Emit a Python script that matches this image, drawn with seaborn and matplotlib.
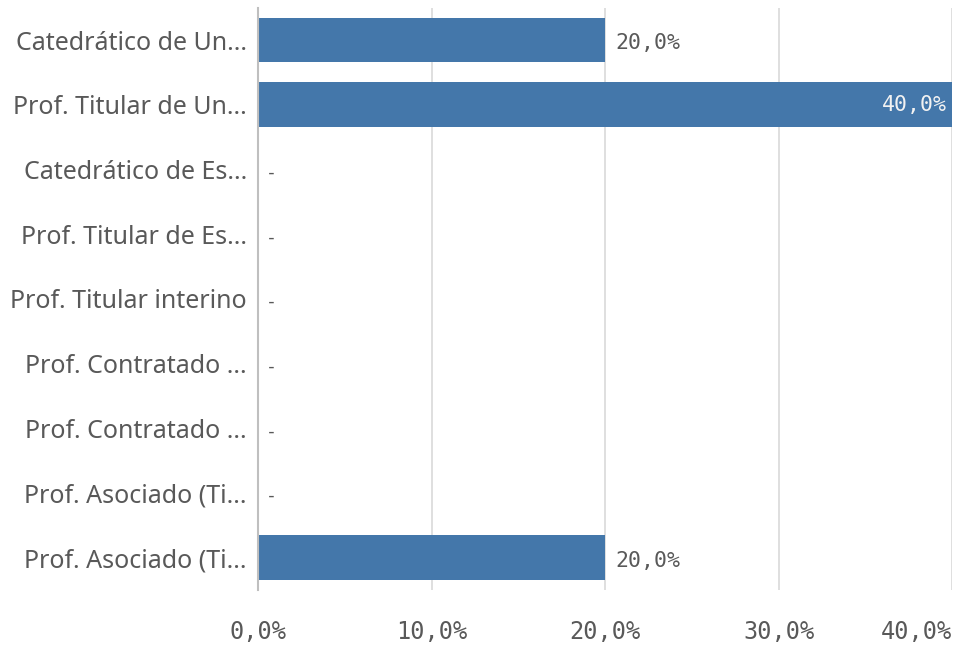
import matplotlib
matplotlib.use("Agg")
import matplotlib.pyplot as plt
import seaborn as sns
import pandas as pd

# data
categories = [
    "Catedrático de Un...",
    "Prof. Titular de Un...",
    "Catedrático de Es...",
    "Prof. Titular de Es...",
    "Prof. Titular interino",
    "Prof. Contratado ...",
    "Prof. Contratado ...",
    "Prof. Asociado (Ti...",
    "Prof. Asociado (Ti...",
]
values = [20.0, 40.0, 0, 0, 0, 0, 0, 0, 20.0]
x_ticks = [0, 10, 20, 30, 40]

BAR_COLOR = "#4477aa"
TEXT_GRAY = "#595959"
GRID_GRAY = "#d9d9d9"
MONO = "DejaVu Sans Mono"

sns.set_theme(style="white")
plt.rcParams["font.family"] = ["Noto Sans", "DejaVu Sans"]

# unique ids so duplicate labels keep their own rows
df = pd.DataFrame({"row": [str(i) for i in range(len(categories))], "value": values})

fig = plt.figure(figsize=(9.57, 6.49), dpi=100)
ax = fig.add_axes([0.2696, 0.091, 0.7252, 0.897])

ax.set_axisbelow(True)
for t in x_ticks:
    ax.axvline(t, color=GRID_GRAY, lw=1.2, zorder=0)

sns.barplot(data=df, x="value", y="row", orient="h", color=BAR_COLOR,
            width=0.69, saturation=1, linewidth=0, ax=ax, zorder=2)

ax.set_xlim(0, 40)
ax.set_ylim(len(categories) - 0.5, -0.5)
ax.set_xticks(x_ticks)
ax.set_xticklabels([f"{t:.1f}%".replace(".", ",") for t in x_ticks],
                   fontfamily=MONO, fontsize=17, color=TEXT_GRAY)
ax.get_xticklabels()[-1].set_horizontalalignment("right")
ax.set_yticks(range(len(categories)))
ax.set_yticklabels(categories, fontsize=18, color=TEXT_GRAY)
ax.tick_params(axis="x", length=10, width=1.2, color=GRID_GRAY, pad=12)
ax.tick_params(axis="y", length=0, pad=8)
ax.set_xlabel("")
ax.set_ylabel("")

for s in ["top", "right", "bottom"]:
    ax.spines[s].set_visible(False)
ax.spines["left"].set_color("#bfbfbf")
ax.spines["left"].set_linewidth(1.5)
ax.spines["left"].set_zorder(3)

for i, v in enumerate(values):
    if v == 0:
        ax.text(0.45, i + 0.05, "-", va="center", ha="left", fontfamily=MONO,
                fontsize=13, color=TEXT_GRAY)
    elif v >= 35:
        ax.text(v - 0.3, i, f"{v:.1f}%".replace(".", ","), va="center", ha="right",
                fontfamily=MONO, fontsize=15.5, color="#f2f2f2", zorder=4)
    else:
        ax.text(v + 0.6, i + 0.05, f"{v:.1f}%".replace(".", ","), va="center", ha="left",
                fontfamily=MONO, fontsize=15.5, color=TEXT_GRAY)

fig.savefig("out.png", dpi=100)
